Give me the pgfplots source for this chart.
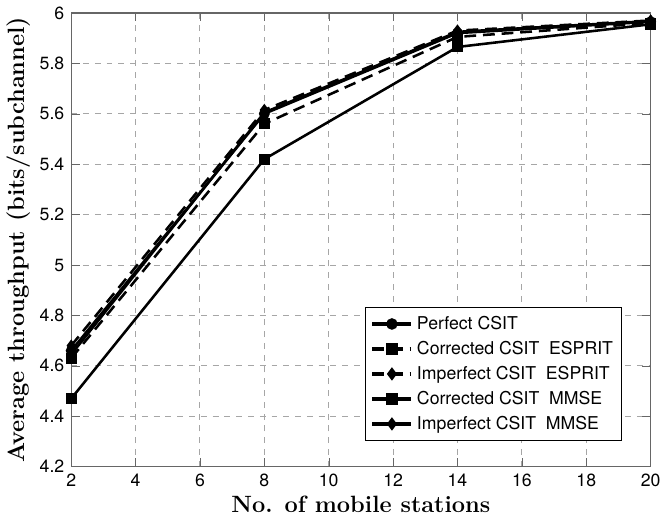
\documentclass[border=0pt]{standalone}
\usepackage{pgfplots}
\pgfplotsset{compat=1.18}
\usepackage{fontspec}
\newfontfamily\helv{TeX Gyre Heros}
\begin{document}
\begin{tikzpicture}
\begin{axis}[
    scale only axis,
    width=295pt, height=231pt,
    xmin=2, xmax=20, ymin=4.2, ymax=6,
    xtick={2,4,...,20},
    ytick={4.2,4.4,...,6.01},
    yticklabel style={/pgf/number format/fixed, /pgf/number format/precision=1},
    tick label style={font=\helv\small},
    /pgf/number format/assume math mode=true,
    xlabel={\bfseries No. of mobile stations},
    ylabel={\bfseries Average throughput (bits/subchannel)},
    label style={font=\large},
    xlabel style={yshift=2pt},
    ylabel style={yshift=-2pt},
    grid=major,
    major grid style={dashed, gray!70, line width=0.5pt},
    axis line style={gray!80!black, line width=0.6pt},
    tick style={gray!80!black},
    tick align=inside,
    legend style={at={(0.951,0.056)}, anchor=south east, font=\helv\small,
        draw=black, row sep=0.5pt, inner sep=2.5pt,
        cells={anchor=west}},
    legend image code/.code={
        \draw[mark repeat=2, mark phase=2] plot coordinates {(0cm,0cm) (0.35cm,0cm) (0.7cm,0cm)};},
    legend image post style={line width=1.6pt},
    every axis plot/.append style={black, line width=1.3pt, mark size=2.1pt},
    esp/.style={dash pattern=on 6pt off 3.5pt},
]
% Perfect CSIT
\addplot[solid, mark=*, mark options={solid, fill=black}] coordinates {
    (2,4.66) (8,5.60) (14,5.92) (20,5.965)
};
% Corrected CSIT ESPRIT
\addplot[esp, mark=square*, mark options={solid}] coordinates {
    (2,4.63) (8,5.56) (14,5.905) (20,5.96)
};
% Imperfect CSIT ESPRIT
\addplot[esp, mark=diamond*, mark options={solid}] coordinates {
    (2,4.68) (8,5.615) (14,5.93) (20,5.97)
};
% Corrected CSIT MMSE
\addplot[solid, mark=square*] coordinates {
    (2,4.47) (8,5.42) (14,5.865) (20,5.955)
};
% Imperfect CSIT MMSE
\addplot[solid, mark=diamond*] coordinates {
    (2,4.645) (8,5.605) (14,5.925) (20,5.968)
};
\legend{Perfect CSIT, Corrected CSIT\ \ ESPRIT, Imperfect CSIT\ \ ESPRIT, Corrected CSIT\ \ MMSE, Imperfect CSIT\ \ MMSE}
\end{axis}
\end{tikzpicture}
\end{document}
